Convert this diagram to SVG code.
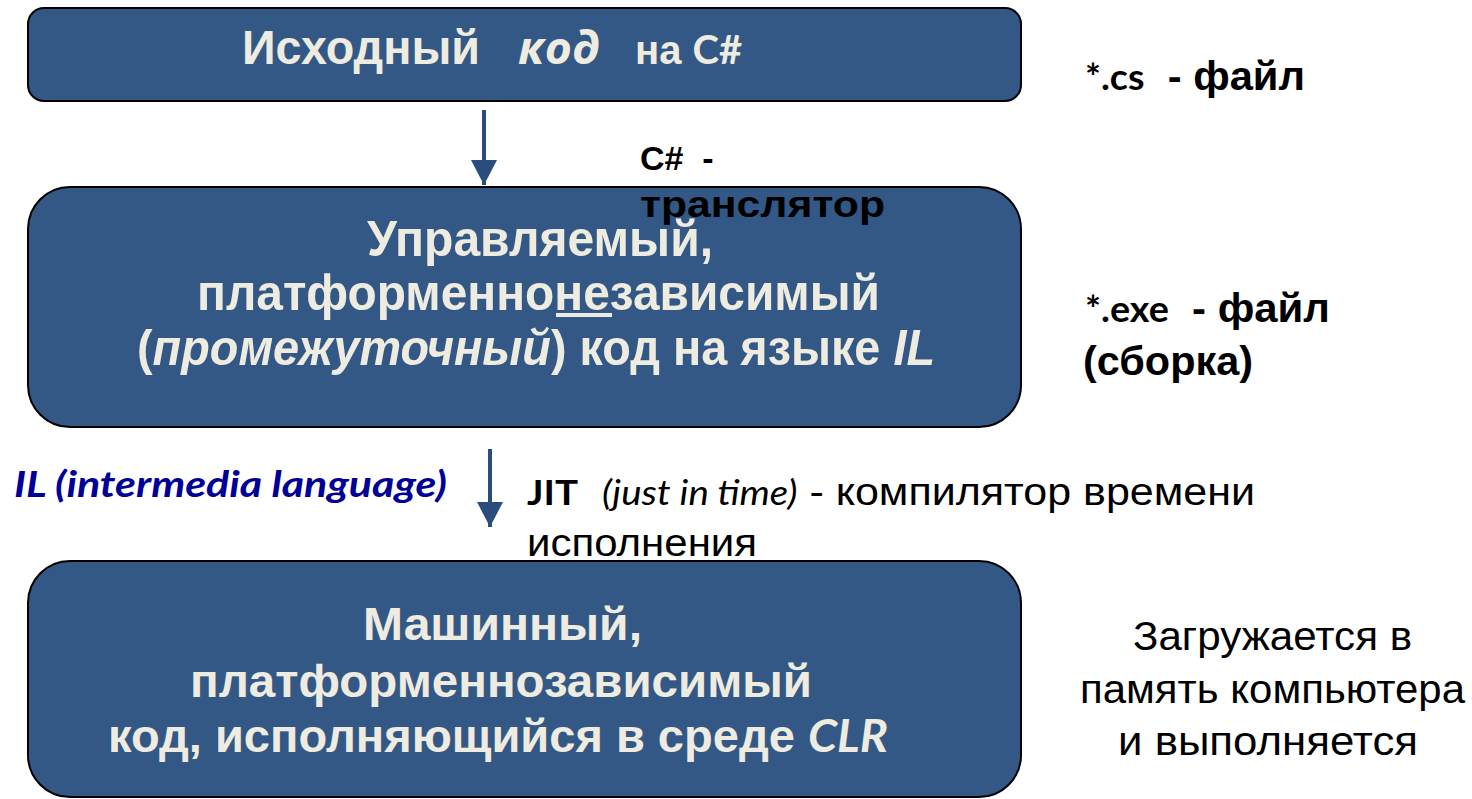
<svg xmlns="http://www.w3.org/2000/svg" width="1472" height="799" viewBox="0 0 1472 799">
<style>
.box{fill:#335886;stroke:#000;stroke-width:2}
.bt{fill:#eeebe0;font-family:"Liberation Sans",Arial,sans-serif;font-weight:bold}
.cal{font-family:Lato,"Open Sans",sans-serif}
.os{font-family:"Open Sans","Noto Sans",sans-serif}
.blk{fill:#000;font-family:"Liberation Sans",Arial,sans-serif}
.conn{stroke:#2a4d7e;stroke-width:4;fill:none}
</style>
<defs>
<marker id="ah" markerUnits="userSpaceOnUse" markerWidth="26" markerHeight="34" refX="25" refY="13" orient="auto">
<path d="M0,0 L25,13 L0,26 Z" fill="#2a4d7e"/>
</marker>
</defs>
<rect width="1472" height="799" fill="#fff"/>
<g id="connectors">
<line class="conn" x1="484" y1="110" x2="484" y2="185" marker-end="url(#ah)"/>
<line class="conn" x1="490" y1="449" x2="490" y2="527" marker-end="url(#ah)"/>
</g>
<g id="source">
<rect class="box" x="28" y="8" width="993" height="93" rx="16"/>
<text class="bt" x="242" y="64" font-size="48" textLength="238" lengthAdjust="spacingAndGlyphs">Исходный</text>
<text class="bt os" x="518" y="64" font-size="44" font-style="italic" textLength="82" lengthAdjust="spacingAndGlyphs">код</text>
<text class="bt" x="635" y="64" font-size="40">на <tspan class="cal">C#</tspan></text>
</g>
<g id="il">
<rect class="box" x="28" y="187" width="993" height="240" rx="42"/>
<text class="bt" x="367" y="256" font-size="50" textLength="346" lengthAdjust="spacingAndGlyphs">Управляемый,</text>
<text class="bt" x="197" y="310" font-size="50" textLength="683" lengthAdjust="spacingAndGlyphs">платформеннонезависимый</text>
<rect x="556" y="313" width="56" height="4" fill="#eeebe0"/>
<text class="bt" x="137" y="365" font-size="50" textLength="798" lengthAdjust="spacingAndGlyphs">(<tspan font-style="italic">промежуточный</tspan>) код на языке <tspan font-style="italic">IL</tspan></text>
</g>
<g id="machine">
<rect class="box" x="28" y="561" width="993" height="236" rx="42"/>
<text class="bt" x="363" y="640" font-size="46" textLength="279" lengthAdjust="spacingAndGlyphs">Машинный,</text>
<text class="bt" x="190" y="697" font-size="46" textLength="622" lengthAdjust="spacingAndGlyphs">платформеннозависимый</text>
<text class="bt" x="108" y="752" font-size="46" textLength="780" lengthAdjust="spacingAndGlyphs">код, исполняющийся в среде <tspan class="cal" font-style="italic">CLR</tspan></text>
</g>
<g id="labels">
<text class="blk" x="1085" y="90" font-size="40" font-weight="bold" xml:space="preserve" textLength="220" lengthAdjust="spacingAndGlyphs"><tspan class="cal" font-size="36">*.cs</tspan>  - файл</text>
<text class="blk" x="1085" y="322" font-size="40" font-weight="bold" xml:space="preserve" textLength="245" lengthAdjust="spacingAndGlyphs"><tspan class="cal" font-size="36">*.exe</tspan>  - файл</text>
<text class="blk" x="1083" y="375" font-size="40" font-weight="bold" textLength="170" lengthAdjust="spacingAndGlyphs">(сборка)</text>
<text class="blk" x="640" y="170" font-size="34" font-weight="bold" xml:space="preserve">C#  -</text>
<text class="blk" x="640" y="217" font-size="36" font-weight="bold" textLength="245" lengthAdjust="spacingAndGlyphs">транслятор</text>
<text class="cal" x="14" y="497" font-size="36" font-weight="bold" font-style="italic" fill="#000099" textLength="433" lengthAdjust="spacingAndGlyphs">IL (intermedia language)</text>
<text class="blk" x="527" y="505" font-size="38" xml:space="preserve" textLength="728" lengthAdjust="spacingAndGlyphs"><tspan class="cal" font-weight="bold" font-size="34">JIT</tspan>  <tspan class="cal" font-style="italic" font-size="34">(just in time)</tspan> - компилятор времени</text>
<text class="blk" x="527" y="556" font-size="38" textLength="230" lengthAdjust="spacingAndGlyphs">исполнения</text>
<text class="blk" x="1133" y="650" font-size="40" textLength="279" lengthAdjust="spacingAndGlyphs">Загружается в</text>
<text class="blk" x="1080" y="703" font-size="40" textLength="385" lengthAdjust="spacingAndGlyphs">память компьютера</text>
<text class="blk" x="1118" y="755" font-size="40" textLength="300" lengthAdjust="spacingAndGlyphs">и выполняется</text>
</g>
</svg>
